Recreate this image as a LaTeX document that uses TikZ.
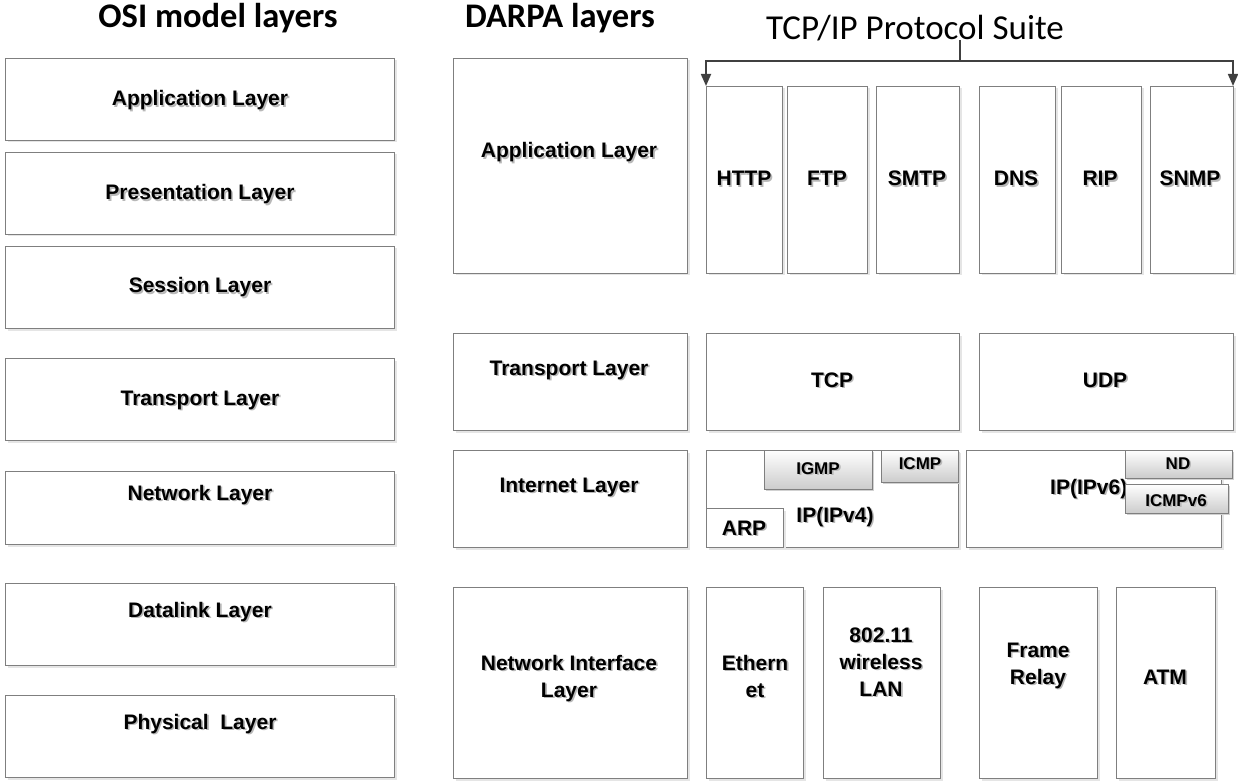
\documentclass[tikz,border=0pt]{standalone}
\usepackage{fontspec}
\setmainfont{Liberation Sans}
\newfontfamily\titlefont{Carlito}
\usetikzlibrary{shadows,arrows.meta}

\definecolor{boxline}{HTML}{7F7F7F}
\definecolor{arrowgray}{HTML}{404040}

% bold label with a soft grey text shadow
\newcommand\shd[1]{\leavevmode\rlap{\kern1.6pt\raisebox{-1.6pt}{\color{black!28}#1}}#1}

% \bx[style]{name}{x1}{y1}{x2}{y2}: rectangle given by its corners
\newcommand\bx[6][box]{%
  \node[#1, anchor=north west,
        minimum width={(#5-#3)*1pt}, minimum height={(#6-#4)*1pt}] (#2) at (#3,#4) {};}

\tikzset{
  box/.style={draw=boxline, line width=0.9pt, fill=white, inner sep=0pt, outer sep=0pt,
    drop shadow={shadow xshift=2.5pt, shadow yshift=-2.5pt, fill=black!10, opacity=1}},
  tagbox/.style={draw=boxline, line width=0.9pt, inner sep=0pt, outer sep=0pt,
    top color=white, bottom color=black!20,
    drop shadow={shadow xshift=2pt, shadow yshift=-2pt, fill=black!18, opacity=1}},
  % multi-line labels sit on the baseline of their last line
  lbl/.style={font=\fontsize{21}{27}\selectfont\bfseries, anchor=base, inner sep=0pt, align=center},
  smalllbl/.style={lbl, font=\fontsize{17}{20}\selectfont\bfseries},
  heading/.style={font=\titlefont\bfseries\fontsize{34.5}{36}\selectfont, anchor=base, inner sep=0pt},
  suite/.style={font=\titlefont\fontsize{35}{38}\selectfont, anchor=base, inner sep=0pt},
  bracket/.style={draw=arrowgray, line width=1.8pt},
  tip/.style={bracket, -{Triangle[length=12pt, width=10pt]}},
}

\begin{document}
\begin{tikzpicture}[x=1pt, y=-1pt]
\useasboundingbox (0,0) rectangle (1238,783);

% column headings
\node[heading] (hOSI) at (218,28) {OSI model layers};
\node[heading] (hDARPA) at (560,28) {DARPA layers};
\node[suite] (hSuite) at (915,40) {TCP/IP Protocol Suite};

% OSI column
\bx{o1}{5}{58}{394}{140}
\bx{o2}{5}{152}{394}{234}
\bx{o3}{5}{246}{394}{328}
\bx{o4}{5}{358}{394}{440}
\bx{o5}{5}{471}{394}{544}
\bx{o6}{5}{583}{394}{665}
\bx{o7}{5}{695}{394}{777}

% DARPA column
\bx{d1}{453}{58}{687}{273}
\bx{d2}{453}{333}{687}{430}
\bx{d3}{453}{450}{687}{547}
\bx{d4}{453}{587}{687}{778}

% application protocols
\bx{http}{706}{86}{782}{273}
\bx{ftp}{787}{86}{867}{273}
\bx{smtp}{876}{86}{959}{273}
\bx{dns}{979}{86}{1055}{273}
\bx{rip}{1061}{86}{1141}{273}
\bx{snmp}{1150}{86}{1233}{273}

% transport protocols
\bx{tcp}{706}{333}{959}{430}
\bx{udp}{979}{333}{1233}{430}

% internet protocols
\bx{ipv4}{706}{450}{958}{547}
\bx{ipv6}{966}{450}{1221}{547}

% link technologies
\bx{eth}{706}{587}{803}{778}
\bx{wlan}{823}{587}{940}{778}
\bx{frame}{979}{587}{1097}{778}
\bx{atm}{1116}{587}{1215}{778}

% bracket spanning the protocol suite
\coordinate (brT) at (960,40);
\coordinate (brM) at (960,61);
\coordinate (brL) at (706,61);
\coordinate (brR) at (1233,61);
\draw[bracket] (brT) -- (brM);
\draw[bracket, line cap=rect] (brL) -- (brR);
\draw[tip] (brL) -- (http.north west);
\draw[tip] (brR) -- (snmp.north east);

% OSI labels
\node[lbl] (tO1) at (200,106) {\shd{Application Layer}};
\node[lbl] (tO2) at (200,200) {\shd{Presentation Layer}};
\node[lbl] (tO3) at (200,293) {\shd{Session Layer}};
\node[lbl] (tO4) at (200,405) {\shd{Transport Layer}};
\node[lbl] (tO5) at (200,500) {\shd{Network Layer}};
\node[lbl] (tO6) at (200,617) {\shd{Datalink Layer}};
\node[lbl] (tO7) at (200,729) {\shd{Physical~~Layer}};

% DARPA labels
\node[lbl] (tD1) at (569,158) {\shd{Application Layer}};
\node[lbl] (tD2) at (569,375) {\shd{Transport Layer}};
\node[lbl] (tD3) at (569,492) {\shd{Internet Layer}};
\node[lbl] (tD4) at (569,697) {\shd{Network Interface}\\\shd{Layer}};

% protocol labels
\node[lbl] (tHttp) at (744,186) {\shd{HTTP}};
\node[lbl] (tFtp) at (827,186) {\shd{FTP}};
\node[lbl] (tSmtp) at (917,186) {\shd{SMTP}};
\node[lbl] (tDns) at (1016,186) {\shd{DNS}};
\node[lbl] (tRip) at (1100,186) {\shd{RIP}};
\node[lbl] (tSnmp) at (1190,186) {\shd{SNMP}};
\node[lbl] (tTcp) at (832,387) {\shd{TCP}};
\node[lbl] (tUdp) at (1105,387) {\shd{UDP}};
\node[lbl] (tIp4) at (835,522) {\shd{IP(IPv4)}};
\node[lbl, anchor=base west] (tIp6) at (1050,494) {\shd{IP(IPv6)}};
\node[lbl] (tEth) at (755,697) {\shd{Ethern}\\\shd{et}};
\node[lbl] (tWlan) at (881,696) {\shd{802.11}\\\shd{wireless}\\\shd{LAN}};
\node[lbl] (tFrame) at (1038,684) {\shd{Frame}\\\shd{Relay}};
\node[lbl] (tAtm) at (1165,684) {\shd{ATM}};

% protocols drawn over the IP boxes
\bx[tagbox]{igmp}{764}{450}{872}{489}
\bx[tagbox]{icmp}{881}{450}{958}{482}
\bx{arp}{706}{508}{783}{547}
\bx[tagbox]{nd}{1125}{450}{1232}{478}
\bx[tagbox]{icmp6}{1125}{484}{1228}{513}

\node[smalllbl] (tIgmp) at (818,474) {\shd{IGMP}};
\node[smalllbl] (tIcmp) at (920,469) {\shd{ICMP}};
\node[lbl] (tArp) at (744,535) {\shd{ARP}};
\node[smalllbl] (tNd) at (1178,469) {\shd{ND}};
\node[smalllbl] (tIcmp6) at (1176,506) {\shd{ICMPv6}};
\end{tikzpicture}
\end{document}
